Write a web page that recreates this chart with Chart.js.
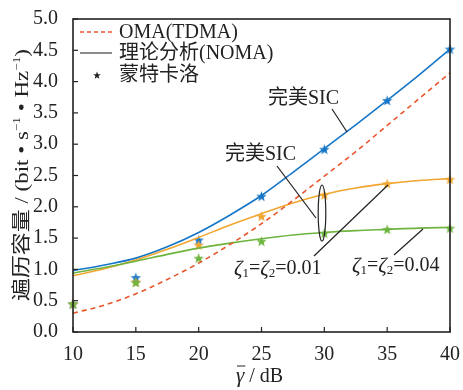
<!DOCTYPE html>
<html>
<head>
<meta charset="utf-8">
<script src="https://cdn.jsdelivr.net/npm/chart.js@4/dist/chart.umd.min.js"></script>
<style>
  html, body { margin: 0; padding: 0; background: #fff; }
  #wrap { width: 463px; height: 390px; }
</style>
</head>
<body>
<div id="wrap"><canvas id="c" width="463" height="390"></canvas></div>
<script>
// x values (dB)
const snrFine = [10, 12.5, 15, 17.5, 20, 22.5, 25, 27.5, 30, 32.5, 35, 37.5, 40];
const snrMC = [10, 15, 20, 25, 30, 35, 40];

// OMA (TDMA), dashed
const omaVals = [0.30, 0.43, 0.61, 0.84, 1.10, 1.40, 1.73, 2.10, 2.49, 2.88, 3.30, 3.72, 4.14];
// theory (NOMA)
const perfectVals = [0.98, 1.07, 1.18, 1.36, 1.59, 1.87, 2.18, 2.55, 2.93, 3.31, 3.70, 4.10, 4.52];
const zeta001Vals = [0.90, 1.01, 1.15, 1.32, 1.51, 1.71, 1.89, 2.06, 2.20, 2.30, 2.37, 2.42, 2.45];
const zeta004Vals = [0.94, 1.03, 1.13, 1.24, 1.34, 1.42, 1.49, 1.55, 1.59, 1.62, 1.64, 1.66, 1.67];
// Monte Carlo
const perfectMC = [0.45, 0.87, 1.47, 2.17, 2.92, 3.70, 4.52];
const zeta001MC = [0.45, 0.80, 1.39, 1.85, 2.19, 2.37, 2.44];
const zeta004MC = [0.45, 0.79, 1.18, 1.45, 1.58, 1.64, 1.66];

const yTicks = [0, 0.5, 1, 1.5, 2, 2.5, 3, 3.5, 4, 4.5, 5];
const xTicks = [10, 15, 20, 25, 30, 35, 40];

const BLUE = '#1576C8';
const ORANGE = '#F2A630';
const GREEN = '#6EB43F';
const RED = '#E8562C';
const INK = '#222';
const SERIF = '"Liberation Serif", "Noto Sans CJK SC", serif';

function makeStar(color, r) {
    const c = document.createElement('canvas');
    const s = Math.ceil(r * 2 + 2);
    c.width = s; c.height = s;
    const g = c.getContext('2d');
    g.fillStyle = color;
    g.beginPath();
    for (let i = 0; i < 10; i++) {
        const rr = i % 2 === 0 ? r : r * 0.42;
        const a = -Math.PI / 2 + i * Math.PI / 5;
        const px = s / 2 + rr * Math.cos(a), py = s / 2 + rr * Math.sin(a) + 0.5;
        if (i === 0) g.moveTo(px, py); else g.lineTo(px, py);
    }
    g.closePath();
    g.fill();
    return c;
}

function pts(xs, ys) {
    return xs.map((x, i) => ({ x: x, y: ys[i] }));
}

function lineSet(data, color, dashed) {
    return {
        type: 'line', data: pts(snrFine, data), borderColor: color, borderWidth: 1.6,
        borderDash: dashed ? [5, 4] : [], pointRadius: 0, cubicInterpolationMode: 'monotone',
        fill: false, clip: false
    };
}

function starSet(data, color) {
    return {
        type: 'scatter', data: pts(snrMC, data), pointStyle: makeStar(color, 5.5),
        pointRadius: 5, showLine: false, clip: false
    };
}

// draw a run of text pieces [text, font, dy] starting at x
function drawPieces(ctx, x, y, pieces) {
    let cx = x;
    pieces.forEach(p => {
        ctx.font = p[1];
        ctx.fillText(p[0], cx, y + p[2]);
        cx += ctx.measureText(p[0]).width;
    });
    return cx;
}

function piecesWidth(ctx, pieces) {
    let w = 0;
    pieces.forEach(p => { ctx.font = p[1]; w += ctx.measureText(p[0]).width; });
    return w;
}

const overlay = {
    id: 'overlay',
    afterDatasetsDraw(chart) {
        const ctx = chart.ctx;
        const a = chart.chartArea;
        const xs = chart.scales.x, ys = chart.scales.y;
        ctx.save();
        // frame
        ctx.strokeStyle = INK;
        ctx.lineWidth = 1.6;
        ctx.strokeRect(a.left, a.top, a.right - a.left, a.bottom - a.top);
        // inward ticks
        ctx.lineWidth = 1.2;
        xTicks.forEach(v => {
            const px = xs.getPixelForValue(v);
            ctx.beginPath(); ctx.moveTo(px, a.bottom); ctx.lineTo(px, a.bottom - 5); ctx.stroke();
        });
        yTicks.forEach(v => {
            const py = ys.getPixelForValue(v);
            ctx.beginPath(); ctx.moveTo(a.left, py); ctx.lineTo(a.left + 5, py); ctx.stroke();
        });

        // legend
        const f20 = '20px ' + SERIF;
        ctx.font = f20;
        ctx.fillStyle = INK;
        ctx.textBaseline = 'middle';
        ctx.lineWidth = 1.5;
        ctx.strokeStyle = RED;
        ctx.setLineDash([4, 3]);
        ctx.beginPath(); ctx.moveTo(80, 32); ctx.lineTo(112, 32); ctx.stroke();
        ctx.setLineDash([]);
        ctx.strokeStyle = '#666';
        ctx.beginPath(); ctx.moveTo(80, 53); ctx.lineTo(112, 53); ctx.stroke();
        ctx.drawImage(makeStar(INK, 4), 92, 70);
        ctx.fillText('OMA(TDMA)', 119, 33);
        ctx.fillText('理论分析(NOMA)', 119, 54);
        ctx.fillText('蒙特卡洛', 119, 76);

        // annotations
        ctx.strokeStyle = INK;
        ctx.lineWidth = 1.2;
        const seg = (x1, y1, x2, y2) => { ctx.beginPath(); ctx.moveTo(x1, y1); ctx.lineTo(x2, y2); ctx.stroke(); };
        ctx.fillText('完美SIC', 268, 99);
        seg(332, 109, 347, 132);
        ctx.fillText('完美SIC', 225, 155);
        seg(277, 166, 316, 218);
        ctx.beginPath(); ctx.ellipse(322, 213, 3.8, 28, 0, 0, Math.PI * 2); ctx.stroke();
        seg(314, 256, 388, 185);
        seg(394, 255, 423, 229);

        const zeta = (x, y, val) => drawPieces(ctx, x, y, [
            ['ζ', 'italic 21px ' + SERIF, 0],
            ['1', '13px ' + SERIF, 5],
            ['=', f20, 0],
            ['ζ', 'italic 21px ' + SERIF, 0],
            ['2', '13px ' + SERIF, 5],
            ['=' + val, f20, 0]
        ]);
        zeta(234, 269, '0.01');
        zeta(352, 266, '0.04');

        // x title
        ctx.textBaseline = 'alphabetic';
        ctx.font = 'italic 21px ' + SERIF;
        const gw = ctx.measureText('γ').width;
        drawPieces(ctx, 236, 382, [['γ', 'italic 21px ' + SERIF, 0], [' / dB', f20, 0]]);
        ctx.lineWidth = 1;
        ctx.beginPath(); ctx.moveTo(237, 366); ctx.lineTo(236 + gw + 1, 366); ctx.stroke();

        // y title (rotated), fitted to span y 300 -> 48
        const f19 = '19px ' + SERIF;
        const sup = '11px ' + SERIF;
        const yl = [
            ['遍历容量', f19, 0],
            [' / (bit • s', f19, 0],
            ['−1', sup, -8],
            [' • Hz', f19, 0],
            ['−1', sup, -8],
            [')', f19, 0]
        ];
        const total = piecesWidth(ctx, yl);
        ctx.translate(28, 301);
        ctx.rotate(-Math.PI / 2);
        ctx.scale(252 / total, 1);
        drawPieces(ctx, 0, 0, yl);
        ctx.restore();
    }
};

new Chart(document.getElementById('c'), {
    data: {
        datasets: [
            lineSet(omaVals, RED, true),
            lineSet(zeta004Vals, GREEN, false),
            lineSet(zeta001Vals, ORANGE, false),
            lineSet(perfectVals, BLUE, false),
            starSet(zeta004MC, GREEN),
            starSet(zeta001MC, ORANGE),
            starSet(perfectMC, BLUE)
        ]
    },
    options: {
        responsive: false,
        animation: false,
        events: [],
        layout: { padding: { left: 0, right: 10, top: 15, bottom: 0 } },
        plugins: { legend: { display: false }, tooltip: { enabled: false } },
        scales: {
            x: {
                type: 'linear', min: 10, max: 40,
                afterFit: s => { s.height = 58; },
                afterBuildTicks: s => { s.ticks = xTicks.map(v => ({ value: v })); },
                grid: { display: false }, border: { display: false },
                ticks: { color: INK, font: { family: SERIF, size: 20 }, padding: 3 }
            },
            y: {
                type: 'linear', min: 0, max: 5,
                afterFit: s => { s.width = 73; },
                afterBuildTicks: s => { s.ticks = yTicks.map(v => ({ value: v })); },
                grid: { display: false }, border: { display: false },
                ticks: { color: INK, font: { family: SERIF, size: 20 }, padding: 7,
                    callback: v => v.toFixed(1) }
            }
        }
    },
    plugins: [overlay]
});
</script>
</body>
</html>
